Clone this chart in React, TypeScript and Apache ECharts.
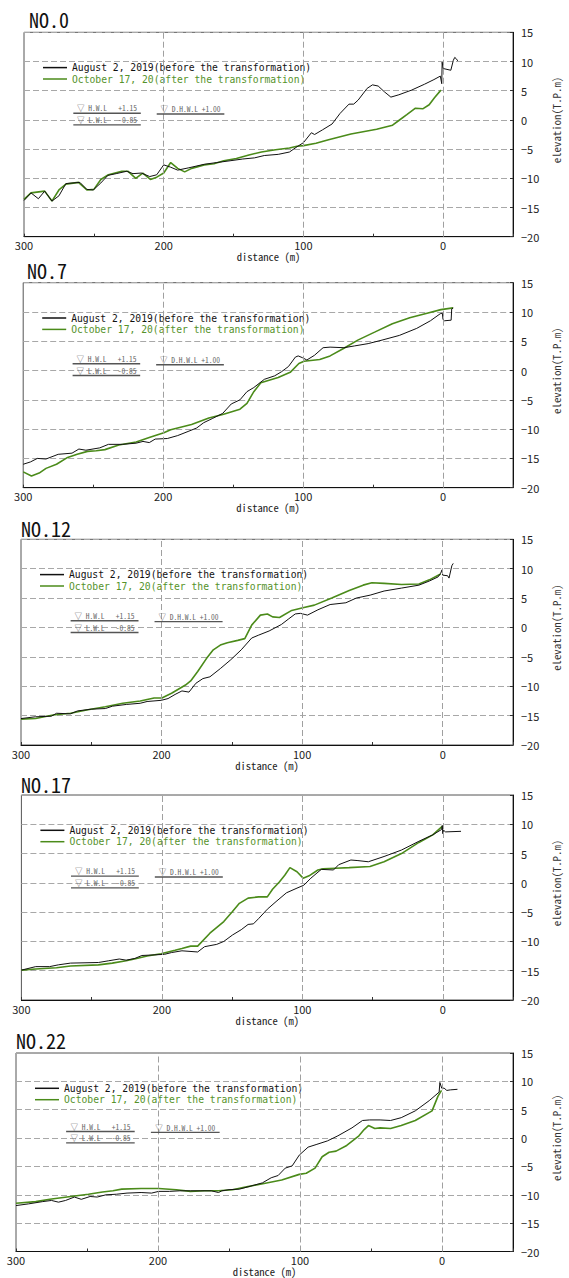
import React, { useEffect, useRef } from "react";
import * as echarts from "echarts";

// ---------- data ----------
const panelTitles = ["NO.0", "NO.7", "NO.12", "NO.17", "NO.22"];
const seriesNames = [
  "August 2, 2019(before the transformation)",
  "October 17, 20(after the transformation)",
];
const xLabelValues = [300, 200, 100, 0];
const xGridValues = [200, 100, 0];

// [distance (m), elevation (T.P.m)]
const before0 = [
  [300, -13.8], [295, -12.5], [289.7, -13.5], [285.2, -12.2], [280, -13.9], [275, -13.0], [270, -10.9], [260, -10.7],
  [255, -11.9], [250.5, -12.0], [245, -10.8], [240, -9.5], [234, -9.2], [226.5, -8.8], [222, -9.2], [216, -9.1],
  [210, -9.7], [205, -9.4], [200, -7.7], [195, -8.1], [190, -8.6], [182, -8.2], [171, -7.6], [162, -7.3],
  [152.5, -7.0], [143.5, -6.7], [135, -6.5], [128, -6.1], [118, -5.9], [110, -5.5], [104.6, -4.6], [100, -3.9],
  [94.3, -2.2], [92, -2.5], [86.3, -1.7], [79.5, -0.7], [73.8, 1.1], [67.4, 2.7], [64, 2.7], [60.8, 3.4],
  [54.4, 5.4], [50.6, 6.0], [46.5, 5.8], [42, 4.8], [37.4, 3.9], [31.7, 4.3], [22.6, 5.1], [13.4, 6.1],
  [6.6, 6.9], [2, 7.5], [1, 6.2], [0.7, 9.9], [0, 8.8], [-5.5, 8.5], [-7.3, 10.2], [-8.3, 10.7], [-9.3, 10.5], [-10.5, 10.1],
];
const after0 = [
  [300, -13.6], [295, -12.5], [285.2, -12.2], [280, -13.9], [275, -12.0], [270, -11.0], [261, -10.7], [255, -12.0],
  [250, -11.9], [245, -10.2], [239.6, -9.4], [230, -8.8], [225.5, -8.8], [220, -10.0], [215, -9.1], [209.5, -10.2],
  [205, -9.8], [200, -9.1], [195, -7.3], [190, -8.3], [185, -8.9], [180, -8.3], [171, -7.7], [164, -7.5],
  [157, -7.0], [148, -6.6], [139, -6.0], [130, -5.5], [120, -5.1], [110, -4.8], [104.6, -4.5], [100, -4.4],
  [91, -4.0], [82, -3.4], [66, -2.4], [47.6, -1.6], [36.2, -0.9], [31.7, -0.1], [26, 0.9], [19.8, 2.0],
  [14.6, 1.9], [10, 2.6], [6.2, 3.8], [1.6, 5.1],
];

const before7 = [
  [300, -16.0], [294.8, -15.6], [289.9, -15.0], [283.7, -15.1], [275, -14.3], [265.1, -14.1], [260.2, -13.4], [255.2, -13.6],
  [245.3, -13.2], [239.1, -12.6], [229.2, -12.6], [219.3, -12.4], [214.4, -12.1], [209.9, -12.3], [205.7, -11.7], [197, -11.6],
  [189.6, -11.1], [182.2, -10.4], [176, -9.8], [171, -8.9], [164.9, -8.2], [157.4, -7.3], [151.3, -5.7], [145.1, -5.0],
  [140.1, -3.6], [135.2, -2.9], [127.7, -1.5], [120.3, -0.9], [115.4, -0.2], [110.4, 0.7], [105.5, 2.3], [103.5, 2.5],
  [100.5, 2.2], [97.3, 1.8], [91.9, 2.6], [85.7, 3.9], [80.7, 4.0], [70.8, 3.9], [63.4, 4.2], [53.5, 4.6],
  [43.6, 5.2], [31.2, 6.0], [18.8, 7.2], [9, 8.5], [2, 9.7], [0.5, 9.8], [0, 8.7], [-1, 8.5], [-5.8, 8.6], [-6.2, 10.5], [-7.3, 10.7],
];
const after7 = [
  [300, -17.3], [294.1, -18.0], [288.6, -17.5], [283.7, -16.7], [276.2, -16.0], [268.8, -14.9], [261.4, -14.3], [254, -13.8],
  [247.8, -13.7], [241.6, -13.5], [231.7, -12.7], [219.3, -12.2], [209.4, -11.4], [199.5, -10.6], [194.6, -10.1], [179.7, -9.2],
  [167.3, -8.1], [157.4, -7.5], [145.1, -6.6], [140.1, -5.6], [135.2, -3.6], [130.2, -2.1], [117.8, -1.2], [109.2, -0.3],
  [103, 1.2], [99.3, 1.6], [88.1, 1.9], [80.7, 2.5], [70.8, 3.8], [60.9, 5.2], [48.5, 6.6], [36.2, 8.0],
  [23.8, 9.0], [11.4, 9.8], [1.5, 10.4], [-7.2, 10.7],
];

const before12 = [
  [300, -15.5], [289.6, -15.2], [278.4, -15.1], [274.7, -14.6], [264.8, -14.7], [259.8, -14.2], [249.9, -13.9], [240, -13.8],
  [235, -13.4], [225.1, -13.1], [215.2, -12.9], [210.3, -12.6], [200.3, -12.4], [195.4, -12.1], [190.4, -11.4], [185.5, -10.8],
  [180.5, -11.0], [175.6, -9.5], [170.6, -8.7], [165.6, -8.4], [158.2, -7.0], [150.8, -5.5], [143.3, -3.8], [135.9, -1.8],
  [130.9, -1.3], [123.5, -0.6], [114.8, 0.5], [109.9, 1.4], [104.9, 2.3], [101.2, 2.4], [96.2, 2.1], [88.8, 3.0],
  [80.1, 3.9], [68.9, 4.2], [61.5, 5.0], [51.6, 5.5], [41.7, 6.2], [29.3, 6.7], [16.9, 7.2], [9.5, 7.9],
  [3.3, 8.6], [1.5, 9.2], [0.5, 9.8], [0, 8.9], [-3.5, 8.8], [-4.5, 8.4], [-6.5, 10.5], [-7.5, 10.9],
];
const after12 = [
  [300, -15.6], [289.6, -15.5], [277.2, -14.9], [264.8, -14.6], [252.4, -14.0], [240, -13.5], [227.6, -12.9], [215.2, -12.5],
  [205.3, -12.0], [199.8, -12.0], [192.9, -11.2], [183, -9.8], [179.3, -9.1], [174.3, -7.5], [168.1, -5.3], [163.2, -3.8],
  [158.2, -3.0], [153.2, -2.6], [145.8, -2.2], [140.8, -1.9], [135.9, 0.4], [129.7, 2.1], [124.7, 2.3], [121, 1.8],
  [116.1, 1.7], [107.4, 2.9], [98.7, 3.4], [91.3, 3.8], [78.9, 5.0], [66.5, 6.3], [56.6, 7.2], [50.4, 7.6],
  [41.7, 7.5], [29.3, 7.3], [16.9, 7.4], [9.5, 8.1], [1.5, 9.1],
];

const before17 = [
  [300, -14.9], [289.8, -14.3], [279.9, -14.3], [273.7, -14.0], [265, -13.7], [245.2, -13.6], [237.8, -13.3], [230.3, -13.0],
  [225.4, -13.2], [219.2, -12.9], [214.2, -12.4], [205.5, -12.3], [198.1, -12.2], [193.1, -11.9], [185.7, -11.6], [174.5, -11.8],
  [169.6, -10.9], [160.9, -10.5], [155.9, -10.0], [149.7, -8.9], [143.5, -8.0], [138.6, -7.1], [134.8, -7.0], [131.1, -6.1],
  [124.9, -4.5], [118.7, -3.2], [111.3, -1.7], [103.8, -0.9], [98.9, -0.4], [93.9, 0.8], [86.5, 2.3], [77.8, 2.2],
  [74.1, 3.1], [65.4, 3.9], [60.4, 3.8], [53, 3.6], [41.8, 4.5], [29.4, 5.6], [17, 7.1], [7.1, 8.2],
  [0.9, 9.1], [0.3, 9.8], [0, 8.4], [-0.5, 9.0], [-2, 8.7], [-13, 8.8],
];
const after17 = [
  [300, -14.9], [289.8, -14.7], [275, -14.5], [265, -14.2], [245.2, -14.0], [235.3, -13.7], [225.4, -13.3], [217.9, -12.9],
  [210.5, -12.5], [200.6, -12.1], [190.6, -11.5], [185.7, -11.2], [179.5, -10.8], [174.5, -10.8], [165.8, -8.6], [155.9, -6.6],
  [149.7, -4.9], [144.8, -3.5], [138.6, -2.6], [131.1, -2.4], [124.9, -2.4], [121.2, -1.1], [116.2, 0.2], [112.5, 1.3],
  [108.8, 2.6], [103.8, 1.9], [99.4, 0.8], [95.2, 1.2], [88.9, 2.2], [85.2, 2.4], [76.5, 2.5], [66.6, 2.6],
  [51.8, 2.8], [41.8, 3.6], [29.4, 5.0], [17, 6.9], [7.1, 8.2], [0.2, 9.7],
];

const before22 = [
  [300, -11.9], [291.1, -11.6], [281.2, -11.2], [275, -11.0], [270.1, -11.3], [265.1, -11.0], [258.9, -10.4], [254, -10.8],
  [247.8, -10.3], [242.8, -10.4], [236.6, -10.0], [229.2, -9.9], [221.8, -9.7], [211.9, -9.6], [204.5, -9.7], [199.5, -9.4],
  [192, -9.4], [184.7, -9.3], [177.2, -9.3], [169.8, -9.3], [162.4, -9.3], [157.4, -9.6], [155, -9.3], [150, -9.1],
  [142.6, -9.0], [135.2, -8.5], [126.5, -7.9], [120.3, -7.0], [115.4, -6.6], [110.4, -5.3], [105.5, -4.9], [100.5, -3.0],
  [94.3, -1.6], [88.1, -1.1], [80.7, -0.5], [73.3, 0.4], [63.4, 1.8], [56, 3.1], [51, 3.2], [43.6, 3.2],
  [36.2, 3.1], [28.7, 3.6], [18.8, 4.8], [9, 6.6], [2, 8.1], [1.5, 9.8], [0.2, 8.8], [-1.5, 8.8], [-3.4, 8.4], [-5.9, 8.5], [-10.9, 8.6],
];
const after22 = [
  [300, -11.5], [286.1, -11.2], [276.2, -10.8], [261.4, -10.3], [249, -9.9], [239.1, -9.5], [231.7, -9.3], [225.5, -9.0],
  [211.9, -8.9], [199.5, -8.9], [187.1, -9.1], [177.2, -9.4], [167.3, -9.3], [157.4, -9.3], [147.5, -9.1], [137.6, -8.6],
  [125.3, -8.0], [112.9, -7.4], [100.5, -6.4], [95.6, -6.2], [89.4, -5.3], [84.4, -3.3], [79.5, -2.5], [74.6, -2.3],
  [67.1, -1.3], [58.5, 0.4], [54.8, 1.5], [51.8, 2.2], [47.3, 1.7], [43.6, 1.8], [36.2, 1.7], [28.7, 2.2],
  [18.8, 3.1], [7, 4.8], [2.8, 7.4], [0.3, 8.4],
];

const beforeData = [before0, before7, before12, before17, before22];
const afterData = [after0, after7, after12, after17, after22];

// water levels: label, elevation, distance range of the mark
const waterLabels = ["▽ H.W.L   +1.15", "▽ D.H.W.L +1.00", "▽ L.W.L   -0.85"];
const waterElev = [1.15, 1.0, -0.85];
const waterFrom = [264.7, 205, 264.7];
const waterTo = [216.4, 156.6, 216.4];

// ---------- layout / style ----------
const layout = [
  { left: 24, top: 32.3, width: 512.5, height: 204.4, titleX: 29, titleY: 20.8 },
  { left: 23.2, top: 282.7, width: 513.6, height: 205, titleX: 27, titleY: 271.5 },
  { left: 21, top: 539.3, width: 513, height: 205.7, titleX: 21, titleY: 529.5 },
  { left: 21.4, top: 795, width: 512.6, height: 205, titleX: 21, titleY: 785 },
  { left: 16, top: 1053, width: 513.5, height: 204.7, titleX: 16, titleY: 1041 },
];
const MONO = "'Noto Sans Mono CJK JP', 'Noto Sans CJK JP', monospace";
const LEG = "'DejaVu Sans Mono', 'Liberation Mono', monospace";
const SANS = "'Noto Sans CJK JP', 'Noto Sans', sans-serif";
const GREEN = "#4b8b1a";
const GREEN_TEXT = "#55922a";
const BLACK = "#111111";

export default function App() {
  const ref = useRef<HTMLDivElement>(null);

  useEffect(() => {
    const chart = echarts.init(ref.current as HTMLDivElement, null, { renderer: "svg" });

    const grid = layout.map((l) => ({
      left: l.left,
      top: l.top,
      width: l.width,
      height: l.height,
      show: true,
      borderColor: "#555",
      borderWidth: 1,
      containLabel: false,
    }));

    const xAxis = layout.map((_, i) => ({
      type: "value",
      gridIndex: i,
      inverse: true,
      min: -50,
      max: 300,
      interval: 50,
      name: "distance (m)",
      nameLocation: "middle",
      nameGap: 13,
      nameTextStyle: { fontFamily: MONO, fontSize: 10.6, color: "#222" },
      axisLine: { show: true, onZero: false, lineStyle: { color: BLACK, width: 1 } },
      axisTick: { show: true, inside: true, length: 3, lineStyle: { color: "#333" } },
      axisLabel: {
        margin: 3,
        fontFamily: SANS,
        fontSize: 11,
        color: "#222",
        formatter: (v: number) => (xLabelValues.indexOf(v) >= 0 ? String(v) : ""),
      },
      splitLine: { show: false },
    }));

    const yAxis = layout.map((_, i) => ({
      type: "value",
      gridIndex: i,
      position: "right",
      min: -20,
      max: 15,
      interval: 5,
      name: "elevation(T.P.m)",
      nameLocation: "middle",
      nameRotate: 90,
      nameGap: 21,
      nameTextStyle: { fontFamily: MONO, fontSize: 10.8, color: "#333", padding: [0, 0, 0, 29] },
      axisLine: { show: true, onZero: false, lineStyle: { color: BLACK, width: 1 } },
      axisTick: { show: true, inside: true, length: 3, lineStyle: { color: "#333" } },
      axisLabel: {
        margin: 8,
        fontFamily: SANS,
        fontSize: 11,
        color: "#222",
        formatter: (v: number) => (v < 0 ? "\u2212" + Math.abs(v) : String(v)),
      },
      splitLine: { show: true, lineStyle: { type: [6, 3], color: "#a8a8a8", width: 1 } },
    }));

    const series: any[] = [];
    layout.forEach((_, i) => {
      series.push({
        type: "line",
        name: seriesNames[1],
        xAxisIndex: i,
        yAxisIndex: i,
        data: afterData[i],
        symbol: "none",
        silent: true,
        z: 3,
        lineStyle: { color: GREEN, width: 1.6 },
        itemStyle: { color: GREEN },
      });
      series.push({
        type: "line",
        name: seriesNames[0],
        xAxisIndex: i,
        yAxisIndex: i,
        data: beforeData[i],
        symbol: "none",
        silent: true,
        z: 4,
        lineStyle: { color: BLACK, width: 1 },
        itemStyle: { color: BLACK },
        markLine: {
          silent: true,
          symbol: ["none", "none"],
          label: { show: false },
          lineStyle: { type: [6, 3], color: "#a0a0a0", width: 1 },
          data: xGridValues.map((v) => ({ xAxis: v })),
        },
      });
      waterLabels.forEach((_, k) => {
        series.push({
          type: "line",
          xAxisIndex: i,
          yAxisIndex: i,
          data: [
            [waterFrom[k], waterElev[k]],
            [waterTo[k], waterElev[k]],
          ],
          symbol: "none",
          silent: true,
          z: 5,
          lineStyle: { color: "#555", width: 1.4 },
        });
      });
    });

    const legend = layout.map((l) => ({
      orient: "vertical",
      left: l.left + 19,
      top: l.top + 29.6,
      padding: 0,
      itemGap: 0,
      itemWidth: 24,
      itemHeight: 1.5,
      icon: "rect",
      selectedMode: false,
      textStyle: { fontFamily: LEG, fontSize: 9.7, lineHeight: 11.4 },
      data: [
        { name: seriesNames[0], textStyle: { color: BLACK }, itemStyle: { color: BLACK } },
        { name: seriesNames[1], textStyle: { color: GREEN_TEXT }, itemStyle: { color: GREEN } },
      ],
    }));

    const title = layout.map((l, i) => ({
      text: panelTitles[i],
      left: l.titleX,
      top: l.titleY - 11,
      padding: 0,
      textStyle: { fontFamily: MONO, fontSize: 20, fontWeight: "normal", color: BLACK },
    }));

    chart.setOption({
      animation: false,
      backgroundColor: "#ffffff",
      title,
      legend,
      grid,
      xAxis,
      yAxis,
      series,
    } as any);

    const graphic: any[] = [];
    layout.forEach((_, i) => {
      waterLabels.forEach((lab, k) => {
        const p1 = chart.convertToPixel({ gridIndex: i } as any, [waterFrom[k], waterElev[k]]) as number[];
        const p2 = chart.convertToPixel({ gridIndex: i } as any, [waterTo[k], waterElev[k]]) as number[];
        graphic.push({
          type: "text",
          x: (p1[0] + p2[0]) / 2,
          y: p1[1] - 1.5,
          silent: true,
          z: 10,
          style: {
            text: lab,
            fill: "#666",
            fontSize: 7.5,
            fontFamily: MONO,
            align: "center",
            verticalAlign: "bottom",
          },
        });
      });
    });
    chart.setOption({ graphic });

    return () => chart.dispose();
  }, []);

  return (
    <div
      ref={ref}
      style={{ position: "absolute", left: 0, top: 0, width: 569, height: 1278, background: "#fff" }}
    />
  );
}
